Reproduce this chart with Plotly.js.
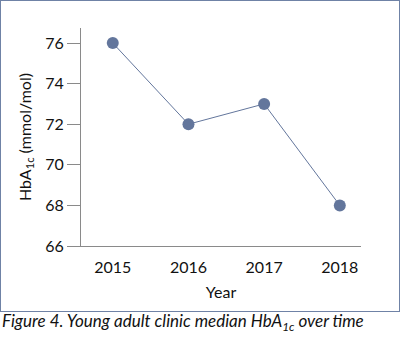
<!DOCTYPE html>
<html>
<head>
<meta charset="utf-8">
<script src="https://cdn.plot.ly/plotly-3.0.1.min.js"></script>
<style>
html,body{margin:0;padding:0;background:#fff;}
#wrap{position:relative;width:400px;height:350px;}
#chart{position:absolute;left:0;top:0;width:400px;height:350px;}
#frame{position:absolute;left:0;top:0;width:398px;height:310px;border:1px solid #6f82a6;pointer-events:none;}
</style>
</head>
<body>
<div id="wrap"><div id="chart"></div><div id="frame"></div></div>
<script>
const years = [2015, 2016, 2017, 2018];
const medianHbA1c = [76, 72, 73, 68];
const yTicks = [66, 68, 70, 72, 74, 76];

const markColor = '#63769c';
const fontFam = 'Lato, "Open Sans", sans-serif';

Plotly.newPlot('chart', [{
  x: years,
  y: medianHbA1c,
  type: 'scatter',
  mode: 'lines+markers',
  line: {color: markColor, width: 1},
  marker: {color: markColor, size: 12},
  hoverinfo: 'skip'
}], {
  width: 400, height: 350,
  margin: {l: 81, r: 39, t: 28, b: 104},
  paper_bgcolor: '#fff', plot_bgcolor: '#fff',
  showlegend: false,
  font: {family: fontFam, color: '#111', size: 16},
  xaxis: {
    range: [2014.58, 2018.28],
    tickvals: years, ticktext: years.map(String),
    showgrid: false, zeroline: false,
    showline: true, linecolor: '#8a8a8a', linewidth: 1,
    ticks: '', ticklabelstandoff: 7,
    tickfont: {size: 16},
    title: {text: 'Year', font: {size: 16}, standoff: 11}
  },
  yaxis: {
    range: [66, 76.74],
    tickvals: yTicks,
    showgrid: false, zeroline: false,
    showline: true, linecolor: '#8a8a8a', linewidth: 1,
    ticks: 'outside', ticklen: 13, tickcolor: '#8a8a8a', tickwidth: 1,
    tickfont: {size: 16},
    title: {text: 'HbA<sub>1c</sub> (mmol/mol)', font: {size: 16}, standoff: 9}
  },
  annotations: [{
    xref: 'paper', yref: 'paper',
    x: -81/280, y: -(322-246)/218,
    xanchor: 'left', yanchor: 'middle',
    showarrow: false,
    text: '<i>Figure 4. Young adult clinic median HbA<sub>1c</sub> over time</i>',
    font: {family: fontFam, size: 17, color: '#111'}
  }]
}, {staticPlot: true, displayModeBar: false});
</script>
</body>
</html>
